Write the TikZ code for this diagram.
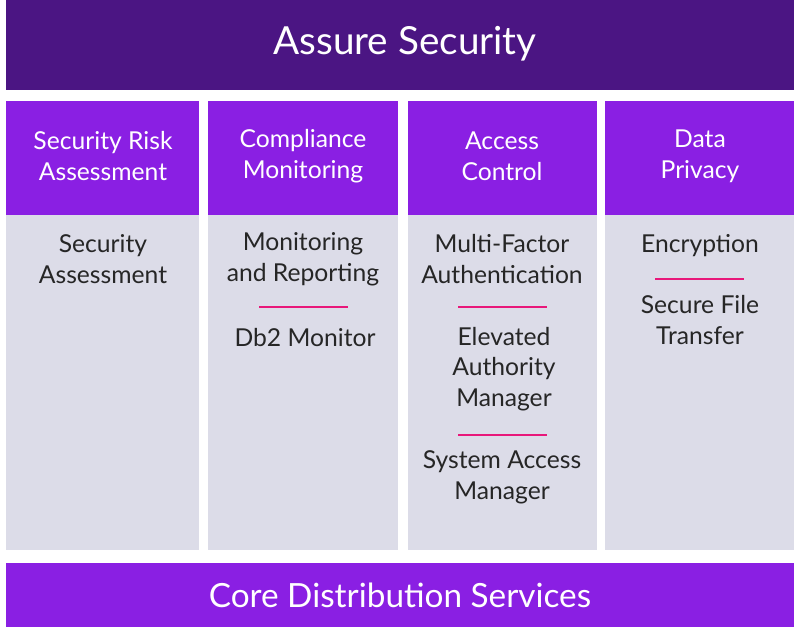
\documentclass[tikz,border=0pt]{standalone}
\usepackage{fontspec}
\setmainfont{Lato}
\definecolor{dark}{HTML}{4B1583}
\definecolor{vio}{HTML}{8A1FE3}
\definecolor{body}{HTML}{DCDCE8}
\definecolor{pink}{HTML}{E8177A}
\begin{document}
\begin{tikzpicture}[x=0.75pt,y=-0.75pt,
  hdr/.style={fill=vio,draw=none},
  bod/.style={fill=body,draw=none},
  ht/.style={text=white,align=center,font=\fontsize{18.5}{23}\selectfont},
  bt/.style={text=black!85,align=center,font=\fontsize{18.5}{23}\selectfont},
  sep/.style={draw=pink,line width=2pt}]
\useasboundingbox (0,0) rectangle (800,633);
\fill[dark] (6,0) rectangle (794,90);
\node[ht,font=\fontsize{29}{32}\selectfont] (title) at (405,44) {Assure Security};
\foreach \a/\b in {6/199,208/398,408/597,605/794}{
  \fill[hdr] (\a,101) rectangle (\b,215);
  \fill[bod] (\a,215) rectangle (\b,550);}
\fill[vio] (6,563) rectangle (794,627);
\node[ht,font=\fontsize{25}{28}\selectfont] (core) at (400,595) {Core Distribution Services};
\node[ht] (h1) at (103,156) {Security Risk\\Assessment};
\node[ht] (h2) at (303,156) {Compliance\\Monitoring};
\node[ht] (h3) at (502,156) {Access\\Control};
\node[ht] (h4) at (700,156) {Data\\Privacy};
\node[bt] (b1) at (103,259) {Security\\Assessment};
\node[bt] (b2a) at (303,259) {Monitoring\\and Reporting};
\draw[sep] (259,307) -- (348,307);
\node[bt] (b2b) at (305,338) {Db2 Monitor};
\node[bt] (b3a) at (502,259) {Multi-Factor\\Authentication};
\draw[sep] (458,307) -- (547,307);
\node[bt] (b3b) at (504,369) {Elevated\\Authority\\Manager};
\draw[sep] (458,435) -- (547,435);
\node[bt] (b3c) at (502,477) {System Access\\Manager};
\node[bt] (b4a) at (700,246) {Encryption};
\draw[sep] (655,279) -- (744,279);
\node[bt] (b4b) at (700,320) {Secure File\\Transfer};
\end{tikzpicture}
\end{document}
